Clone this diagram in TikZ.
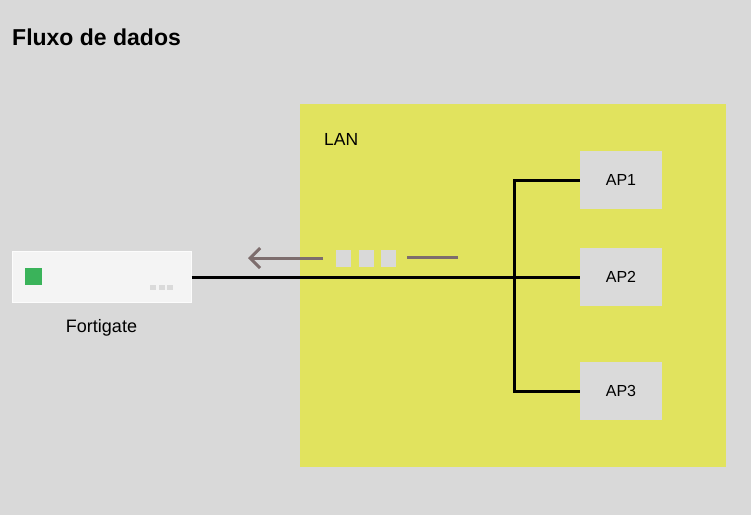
\documentclass[tikz,border=0pt]{standalone}
\usepackage{fontspec}
\setmainfont{Liberation Sans}
\usetikzlibrary{arrows.meta}
\definecolor{bg}{HTML}{D9D9D9}
\definecolor{lanyellow}{HTML}{E1E35E}
\definecolor{boxgrey}{HTML}{DADADA}
\definecolor{fgwhite}{HTML}{F4F4F4}
\definecolor{flow}{HTML}{7D6D6D}
\definecolor{ledgreen}{HTML}{3AB35A}
\tikzset{
  ap/.style = {fill=boxgrey, minimum width=82pt, minimum height=58pt, inner sep=0pt, font=\fontsize{16}{18}\selectfont},
  cable/.style = {line width=3pt, black},
  packet/.style = {fill=bg, draw=none}
}
\begin{document}
\begin{tikzpicture}[x=1pt, y=-1pt]
  \fill[bg] (0,0) rectangle (751,515);
  \useasboundingbox (0,0) rectangle (751,515);
  \node[anchor=base west, inner sep=0pt, font=\bfseries\fontsize{23}{25}\selectfont] (title) at (12,45) {Fluxo de dados};
  % LAN area
  \node[fill=lanyellow, minimum width=426pt, minimum height=363pt, inner sep=0pt, anchor=north west] (lan) at (300,104) {};
  \node[anchor=base west, inner sep=0pt, font=\fontsize{17.5}{19}\selectfont] (lanlabel) at (324,145) {LAN};
  % access points
  \node[ap] (ap1) at (621,180) {AP1};
  \node[ap] (ap2) at (621,277) {AP2};
  \node[ap] (ap3) at (621,391) {AP3};
  % firewall
  \node[fill=fgwhite, draw=white!70!fgwhite, line width=0.6pt, minimum width=179pt, minimum height=51pt, inner sep=0pt, anchor=north west] (fortigate) at (12,251) {};
  \fill[ledgreen] (25,268) rectangle (42,285);
  \foreach \x in {150,158.5,167}
    \fill[boxgrey] (\x,285) rectangle ++(6,5);
  \node[anchor=base, inner sep=0pt, font=\fontsize{18}{20}\selectfont] (fglabel) at (101.5,332.5) {Fortigate};
  % cables
  \coordinate (bus) at (514,277);
  \draw[cable] (fortigate.east |- ap2.west) -- (ap2.west);
  \draw[cable] (ap1.west) -| (bus) |- (ap3.west);
  % data flow
  \coordinate (flowstart) at (323,258);
  \coordinate (flowend) at (248,258);
  \draw[flow, line width=3pt, -{Straight Barb[length=10pt, width=20pt, line width=3pt]}] (flowstart) -- (flowend);
  \foreach \x in {336,359,381}
    \fill[packet] (\x,250) rectangle ++(15,17);
  \coordinate (tailstart) at (458,257);
  \coordinate (tailend) at (407,257);
  \draw[flow, line width=3pt] (tailstart) -- (tailend);
\end{tikzpicture}
\end{document}
